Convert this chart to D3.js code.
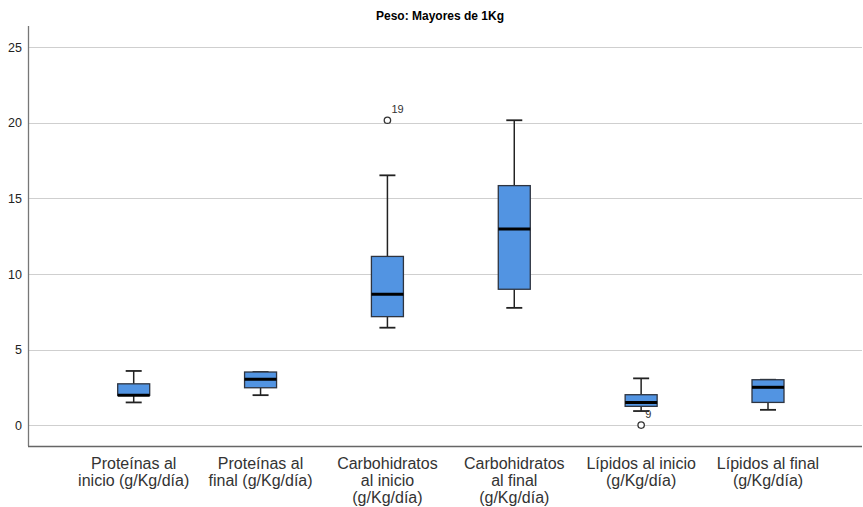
<!DOCTYPE html>
<html>
<head>
<meta charset="utf-8">
<script src="https://cdn.jsdelivr.net/npm/d3@7"></script>
<style>
  html, body { margin: 0; padding: 0; background: #fff; }
  svg { display: block; font-family: "Liberation Sans", Arial, sans-serif; }
</style>
</head>
<body>
<svg id="chart" width="863" height="507"></svg>
<script>
// Category labels (multi-line)
const categories = [
  ["Proteínas al", "inicio (g/Kg/día)"],
  ["Proteínas al", "final (g/Kg/día)"],
  ["Carbohidratos", "al inicio", "(g/Kg/día)"],
  ["Carbohidratos", "al final", "(g/Kg/día)"],
  ["Lípidos al inicio", "(g/Kg/día)"],
  ["Lípidos al final", "(g/Kg/día)"]
];
// Five-number summaries per variable
const whiskerLow  = [1.52, 2.00, 6.46, 7.77, 0.95, 1.03];
const q1          = [1.99, 2.49, 7.19, 9.00, 1.26, 1.52];
const medians     = [2.00, 3.05, 8.67, 12.98, 1.52, 2.52];
const q3          = [2.75, 3.53, 11.17, 15.85, 2.03, 3.02];
const whiskerHigh = [3.60, 3.53, 16.53, 20.17, 3.11, 3.02];
// Outliers: [category index, value, case label]
const outliers = [
  [2, 20.17, "19"],
  [4, 0.02, "9"]
];
const yTicks = [0, 5, 10, 15, 20, 25];
const title = "Peso: Mayores de 1Kg";

const svg = d3.select("#chart");
const plot = { left: 28, right: 862, top: 26, bottom: 446 };

const y = d3.scaleLinear().domain([-1.36, 26.4]).range([plot.bottom, plot.top]);
const x = d3.scalePoint()
  .domain(d3.range(categories.length))
  .range([133.7, 768]);

// Title
svg.append("text")
  .attr("x", 440).attr("y", 20)
  .attr("text-anchor", "middle")
  .attr("font-weight", "bold")
  .attr("font-size", 12)
  .attr("fill", "#000")
  .text(title);

// Gridlines
svg.append("g")
  .selectAll("line")
  .data(yTicks)
  .join("line")
  .attr("x1", plot.left).attr("x2", plot.right)
  .attr("y1", d => Math.round(y(d)) + 0.5)
  .attr("y2", d => Math.round(y(d)) + 0.5)
  .attr("stroke", "#cfcfcf")
  .attr("stroke-width", 1.2);

// Y axis
const yAxis = d3.axisLeft(y).tickValues(yTicks).tickSize(0).tickPadding(6);
const gy = svg.append("g")
  .attr("transform", `translate(${plot.left},0)`)
  .call(yAxis);
gy.select(".domain").remove();
gy.selectAll("text")
  .attr("font-size", 12.5)
  .attr("font-family", "Liberation Sans, Arial, sans-serif")
  .attr("fill", "#222");

svg.append("line")
  .attr("x1", plot.left + 0.5).attr("x2", plot.left + 0.5)
  .attr("y1", plot.top).attr("y2", plot.bottom)
  .attr("stroke", "#777").attr("stroke-width", 1.3);
svg.append("line")
  .attr("x1", plot.left).attr("x2", plot.right)
  .attr("y1", plot.bottom + 0.5).attr("y2", plot.bottom + 0.5)
  .attr("stroke", "#666").attr("stroke-width", 1.3);

// Boxes
const boxW = 32, capW = 16;
const g = svg.append("g");
categories.forEach((c, i) => {
  const cx = x(i);
  // whisker stems
  g.append("line")
    .attr("x1", cx).attr("x2", cx)
    .attr("y1", y(whiskerHigh[i])).attr("y2", y(q3[i]))
    .attr("stroke", "#222").attr("stroke-width", 1.5);
  g.append("line")
    .attr("x1", cx).attr("x2", cx)
    .attr("y1", y(q1[i])).attr("y2", y(whiskerLow[i]))
    .attr("stroke", "#222").attr("stroke-width", 1.5);
  // caps
  [whiskerHigh[i], whiskerLow[i]].forEach(v => {
    g.append("line")
      .attr("x1", cx - capW / 2).attr("x2", cx + capW / 2)
      .attr("y1", y(v)).attr("y2", y(v))
      .attr("stroke", "#222").attr("stroke-width", 1.8);
  });
  // box
  g.append("rect")
    .attr("x", cx - boxW / 2)
    .attr("y", y(q3[i]))
    .attr("width", boxW)
    .attr("height", y(q1[i]) - y(q3[i]))
    .attr("fill", "#5294e2")
    .attr("stroke", "#2e3440")
    .attr("stroke-width", 1.3);
  // median
  g.append("line")
    .attr("x1", cx - boxW / 2).attr("x2", cx + boxW / 2)
    .attr("y1", y(medians[i])).attr("y2", y(medians[i]))
    .attr("stroke", "#000").attr("stroke-width", 3);
});

// Outliers
outliers.forEach(([i, v, lab]) => {
  const cx = x(i);
  g.append("circle")
    .attr("cx", cx).attr("cy", y(v)).attr("r", 3.2)
    .attr("fill", "#fff").attr("stroke", "#333").attr("stroke-width", 1.3);
  g.append("text")
    .attr("x", cx + 4).attr("y", y(v) - 7)
    .attr("font-size", 11)
    .attr("fill", "#333")
    .text(lab);
});

// Category labels
const lab = svg.append("g");
categories.forEach((c, i) => {
  const t = lab.append("text")
    .attr("text-anchor", "middle")
    .attr("font-size", 16)
    .attr("fill", "#333")
    .attr("transform", `translate(${x(i)},469)`);
  c.forEach((line, k) => {
    t.append("tspan").attr("x", 0).attr("dy", k === 0 ? 0 : 17).text(line);
  });
});
</script>
</body>
</html>
